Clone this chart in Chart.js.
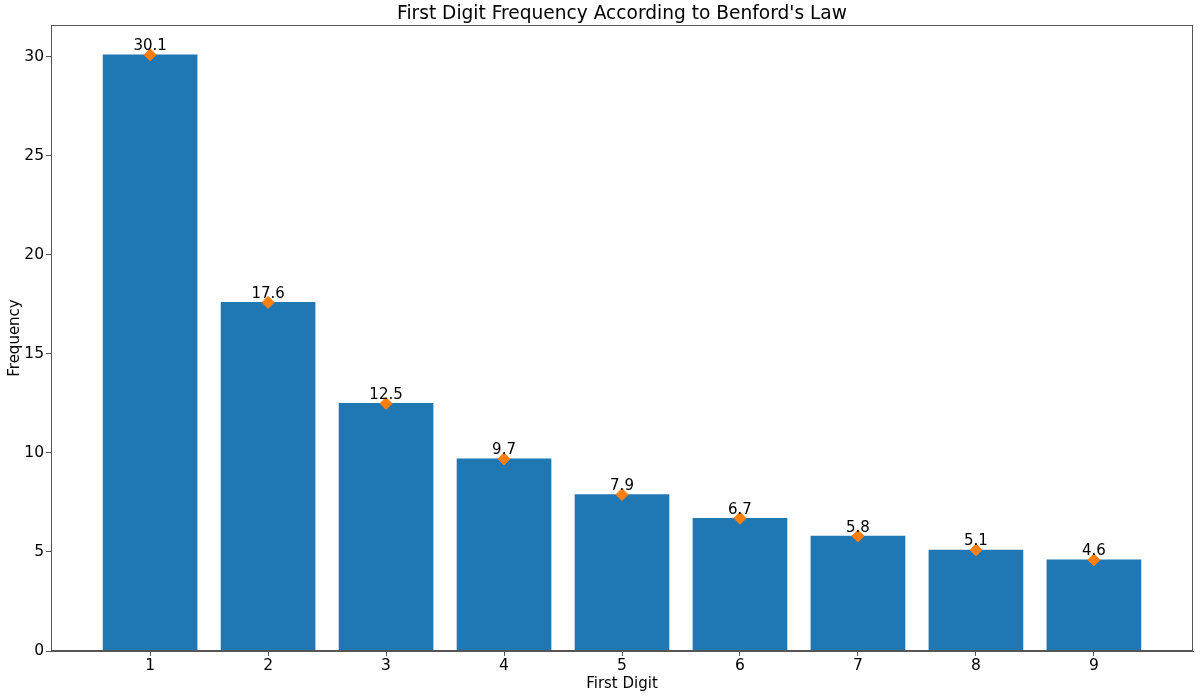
<!DOCTYPE html>
<html>
<head>
<meta charset="utf-8">
<script src="https://cdn.jsdelivr.net/npm/chart.js@4"></script>
<style>
  html, body { margin: 0; padding: 0; background: #fff; }
  #wrap { width: 1200px; height: 697px; }
</style>
</head>
<body>
<div id="wrap"><canvas id="chart"></canvas></div>
<script>
const digits = [1, 2, 3, 4, 5, 6, 7, 8, 9];
const freq = [30.1, 17.6, 12.5, 9.7, 7.9, 6.7, 5.8, 5.1, 4.6];
const yTicks = [0, 5, 10, 15, 20, 25, 30];

const FONT = "'DejaVu Sans', sans-serif";
const barData = digits.map((d, i) => ({ x: d, y: freq[i] }));

// value labels, title + top/right spines, matplotlib style
const extras = {
  id: 'extras',
  afterDatasetsDraw(chart) {
    const { ctx, scales } = chart;
    ctx.save();
    ctx.font = '15px ' + FONT;
    ctx.fillStyle = '#000';
    ctx.textAlign = 'center';
    ctx.textBaseline = 'bottom';
    digits.forEach((d, i) => {
      ctx.fillText(freq[i].toFixed(1), scales.x.getPixelForValue(d), scales.y.getPixelForValue(freq[i]) - 1);
    });
    ctx.restore();
  },
  afterDraw(chart) {
    const { ctx, chartArea } = chart;
    ctx.save();
    ctx.strokeStyle = '#555';
    ctx.lineWidth = 1;
    ctx.strokeRect(chartArea.left + 0.5, chartArea.top + 0.5, chartArea.width - 1, chartArea.height - 1);
    ctx.font = '18.6px ' + FONT;
    ctx.fillStyle = '#000';
    ctx.textAlign = 'center';
    ctx.textBaseline = 'middle';
    ctx.fillText("First Digit Frequency According to Benford's Law", (chartArea.left + chartArea.right) / 2, 14);
    ctx.restore();
  }
};

new Chart(document.getElementById('chart'), {
  type: 'bar',
  data: {
    datasets: [{
      type: 'scatter',
      data: barData,
      backgroundColor: '#ff7f0e',
      borderColor: '#ff7f0e',
      pointStyle: 'rectRot',
      pointRadius: 6,
      order: 0
    }, {
      type: 'bar',
      data: barData,
      backgroundColor: '#1f77b4',
      borderWidth: 0,
      barThickness: 94,
      order: 1
    }]
  },
  options: {
    responsive: true,
    maintainAspectRatio: false,
    animation: false,
    layout: { padding: { top: 25, right: 5, left: 1, bottom: 0 } },
    plugins: { legend: { display: false }, tooltip: { enabled: false } },
    scales: {
      x: {
        type: 'linear',
        min: 0.16,
        max: 9.84,
        offset: false,
        afterBuildTicks: s => { s.ticks = digits.map(v => ({ value: v })); },
        afterFit: s => { s.height = 46; },
        grid: { drawOnChartArea: false, offset: false, tickLength: 5, color: '#555' },
        border: { color: '#555' },
        ticks: { color: '#000', font: { family: FONT, size: 15.5 }, padding: 1, maxRotation: 0 },
        title: { display: true, text: 'First Digit', color: '#000', font: { family: FONT, size: 15 }, padding: { top: 0, bottom: 4 } }
      },
      y: {
        min: 0,
        max: 31.605,
        afterBuildTicks: s => { s.ticks = yTicks.map(v => ({ value: v })); },
        afterFit: s => { s.width = 50; },
        grid: { drawOnChartArea: false, tickLength: 5, color: '#555' },
        border: { color: '#555' },
        ticks: { color: '#000', font: { family: FONT, size: 15.5 }, padding: 2 },
        title: { display: true, text: 'Frequency', color: '#000', font: { family: FONT, size: 15 }, padding: { top: 5, bottom: 0 } }
      }
    }
  },
  plugins: [extras]
});
</script>
</body>
</html>
